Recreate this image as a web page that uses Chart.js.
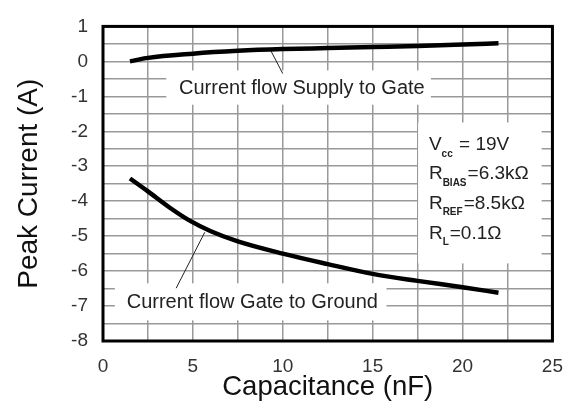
<!DOCTYPE html>
<html>
<head>
<meta charset="utf-8">
<script src="https://cdn.jsdelivr.net/npm/chart.js@4.4.1/dist/chart.umd.min.js"></script>
<style>
  body { margin: 0; background: #fff; }
  #wrap { width: 577px; height: 405px; }
</style>
</head>
<body>
<div id="wrap"><canvas id="peakChart" width="577" height="405"></canvas></div>
<script>
// Data
const supplyCap = [1.5, 2.5, 5, 7.5, 10, 12.5, 15, 17.5, 20, 22];
const supplyCurrent = [0.0, 0.1, 0.22, 0.3, 0.35, 0.38, 0.41, 0.44, 0.48, 0.52];
const groundCap = [1.5, 2.5, 3.7, 4.8, 6, 7.5, 10, 12.5, 15, 17.5, 20, 22];
const groundCurrent = [-3.35, -3.72, -4.18, -4.55, -4.86, -5.15, -5.5, -5.8, -6.08, -6.28, -6.46, -6.62];
const xTickLabels = [0, 5, 10, 15, 20, 25];
const yTickLabels = [1, 0, -1, -2, -3, -4, -5, -6, -7, -8];

const FONT = "'Liberation Sans', Arial, sans-serif";

function toPoints(xs, ys) {
    return xs.map((x, i) => ({ x: x, y: ys[i] }));
}

// Annotations (white boxes, labels, leader lines, conditions box), in data units
const notes = {
    upperBox: [3.52, -0.26, 18.24, -1.24],
    upperText: { x: 4.23, y: -0.77, text: 'Current flow Supply to Gate' },
    upperLeader: [9.34, 0.30, 10.0, -0.35],
    lowerBox: [0.66, -6.35, 15.77, -7.41],
    lowerText: { x: 1.32, y: -6.91, text: 'Current flow Gate to Ground' },
    lowerLeader: [5.66, -4.89, 4.07, -6.49],
    condBox: [17.53, -1.75, 24.4, -5.78],
    condX: 18.13,
    condLines: [
        { y: -2.39, main: 'V', sub: 'cc', rest: ' = 19V' },
        { y: -3.23, main: 'R', sub: 'BIAS', rest: '=6.3k\u03A9' },
        { y: -4.07, main: 'R', sub: 'REF', rest: '=8.5k\u03A9' },
        { y: -4.92, main: 'R', sub: 'L', rest: '=0.1\u03A9' }
    ]
};

function whiteBox(ctx, xs, ys, b) {
    const x1 = xs.getPixelForValue(b[0]), y1 = ys.getPixelForValue(b[1]);
    const x2 = xs.getPixelForValue(b[2]), y2 = ys.getPixelForValue(b[3]);
    ctx.fillStyle = '#fff';
    ctx.fillRect(x1, y1, x2 - x1, y2 - y1);
}

function leader(ctx, xs, ys, l) {
    ctx.beginPath();
    ctx.moveTo(xs.getPixelForValue(l[0]), ys.getPixelForValue(l[1]));
    ctx.lineTo(xs.getPixelForValue(l[2]), ys.getPixelForValue(l[3]));
    ctx.strokeStyle = '#222';
    ctx.lineWidth = 1;
    ctx.stroke();
}

const annotationPlugin = {
    id: 'annot',
    beforeDatasetsDraw(chart) {
        const ctx = chart.ctx, xs = chart.scales.x, ys = chart.scales.y;
        ctx.save();
        whiteBox(ctx, xs, ys, notes.upperBox);
        whiteBox(ctx, xs, ys, notes.lowerBox);
        whiteBox(ctx, xs, ys, notes.condBox);

        ctx.fillStyle = '#222';
        ctx.font = '20px ' + FONT;
        ctx.textBaseline = 'middle';
        ctx.textAlign = 'left';
        [notes.upperText, notes.lowerText].forEach(t => {
            ctx.fillText(t.text, xs.getPixelForValue(t.x), ys.getPixelForValue(t.y));
        });

        // operating conditions with subscripts
        const cx = xs.getPixelForValue(notes.condX);
        notes.condLines.forEach(l => {
            const cy = ys.getPixelForValue(l.y);
            ctx.font = '19px ' + FONT;
            ctx.fillText(l.main, cx, cy);
            let x = cx + ctx.measureText(l.main).width;
            ctx.font = 'bold 10px ' + FONT;
            ctx.fillText(l.sub, x, cy + 9);
            x += ctx.measureText(l.sub).width + 1;
            ctx.font = '19px ' + FONT;
            ctx.fillText(l.rest, x, cy);
        });

        leader(ctx, xs, ys, notes.upperLeader);
        leader(ctx, xs, ys, notes.lowerLeader);
        ctx.restore();
    },
    afterDraw(chart) {
        const ctx = chart.ctx, a = chart.chartArea;
        ctx.save();
        ctx.strokeStyle = '#000';
        ctx.lineWidth = 3;
        ctx.strokeRect(a.left, a.top, a.right - a.left, a.bottom - a.top);
        ctx.restore();
    }
};

const ctx = document.getElementById('peakChart').getContext('2d');
new Chart(ctx, {
    type: 'line',
    data: {
        datasets: [
            {
                label: 'Current flow Supply to Gate',
                data: toPoints(supplyCap, supplyCurrent),
                borderColor: '#000',
                borderWidth: 4.5,
                pointRadius: 0,
                cubicInterpolationMode: 'monotone',
                fill: false
            },
            {
                label: 'Current flow Gate to Ground',
                data: toPoints(groundCap, groundCurrent),
                borderColor: '#000',
                borderWidth: 4.5,
                pointRadius: 0,
                cubicInterpolationMode: 'monotone',
                fill: false
            }
        ]
    },
    options: {
        responsive: false,
        animation: false,
        layout: { padding: { top: 20, right: 19, left: 0, bottom: 0 } },
        plugins: {
            legend: { display: false },
            tooltip: { enabled: false }
        },
        scales: {
            x: {
                type: 'linear',
                min: 0,
                max: 25,
                border: { display: false },
                grid: { color: '#999', lineWidth: 1.5, drawTicks: false },
                ticks: {
                    stepSize: 2.5,
                    padding: 14,
                    color: '#333',
                    font: { family: FONT, size: 19 },
                    maxRotation: 0,
                    autoSkip: false,
                    callback: v => xTickLabels.includes(v) ? String(v) : ''
                },
                title: {
                    display: true,
                    text: 'Capacitance (nF)',
                    color: '#111',
                    font: { family: FONT, size: 27.5, lineHeight: 1 },
                    padding: { top: 0, bottom: 4 }
                },
                afterFit: s => { s.height = 64; }
            },
            y: {
                type: 'linear',
                min: -8,
                max: 1,
                border: { display: false },
                grid: { color: '#999', lineWidth: 1.5, drawTicks: false },
                ticks: {
                    stepSize: 0.5,
                    padding: 15,
                    color: '#333',
                    font: { family: FONT, size: 19 },
                    autoSkip: false,
                    callback: v => yTickLabels.includes(v) ? String(v) : ''
                },
                title: {
                    display: true,
                    text: 'Peak Current (A)',
                    color: '#111',
                    font: { family: FONT, size: 28, lineHeight: 1 },
                    padding: { top: 15, bottom: 0 }
                },
                afterFit: s => { s.width = 103; }
            }
        }
    },
    plugins: [annotationPlugin]
});
</script>
</body>
</html>
